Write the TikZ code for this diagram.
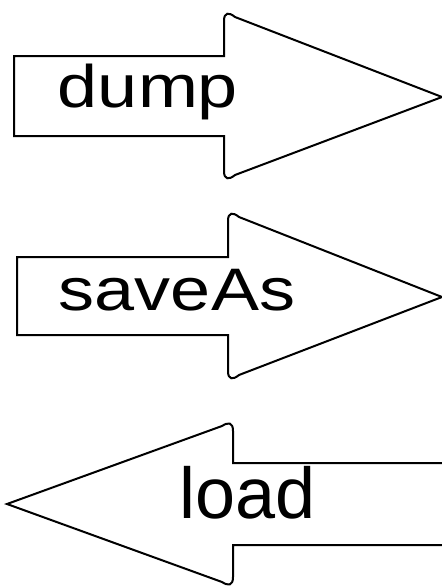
\documentclass[tikz,border=0pt]{standalone}
\usepackage{fontspec}
\setmainfont{Liberation Sans}
\begin{document}
\begin{tikzpicture}[x=1pt,y=-1pt,
  block/.style={draw=black,fill=white,line width=2pt,line join=miter},
  lbl/.style={anchor=base,inner sep=0pt,font=\fontsize{60}{72}\selectfont},
  lblbig/.style={anchor=base,inner sep=0pt,font=\fontsize{72}{86}\selectfont}]
\useasboundingbox (0,0) rectangle (442,587);

% right-pointing arrow "dump"
\draw[block] (14,56) -- (224,56) -- (224,21)
  .. controls (224,12) and (229,12) .. (235,17) -- (442,97)
  -- (235,175) .. controls (229,180) and (224,180) .. (224,171)
  -- (224,136) -- (14,136) -- cycle;
\node[lbl,xscale=1.2] (dump) at (148,107) {dump};

% right-pointing arrow "saveAs"
\draw[block] (17,257) -- (228,257) -- (228,221)
  .. controls (228,212) and (233,212) .. (239,217) -- (442,297)
  -- (239,375) .. controls (233,380) and (228,380) .. (228,371)
  -- (228,335) -- (17,335) -- cycle;
\node[lbl,xscale=1.2] (saveas) at (177,310) {saveAs};

% left-pointing arrow "load", shaft running off the right edge
\draw[block] (452,463) -- (233,463) -- (233,431)
  .. controls (233,422) and (228,422) .. (222,426) -- (7,504)
  -- (222,582) .. controls (228,586) and (233,586) .. (233,577)
  -- (233,545) -- (452,545);
\node[lblbig] (load) at (248,518) {load};
\end{tikzpicture}
\end{document}
